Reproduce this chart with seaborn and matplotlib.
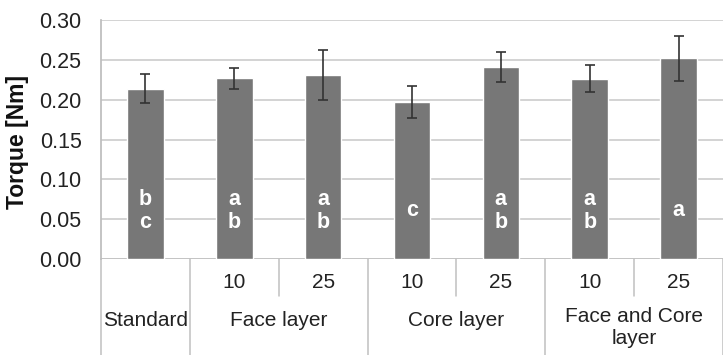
import numpy as np
import pandas as pd
import matplotlib
matplotlib.use("Agg")
import matplotlib.pyplot as plt
import matplotlib.transforms as mtransforms
import seaborn as sns

# values
bars = ["Standard", "Face 10", "Face 25", "Core 10", "Core 25", "FaceCore 10", "FaceCore 25"]
torque = [0.214, 0.227, 0.231, 0.197, 0.241, 0.226, 0.252]
torque_err = [0.018, 0.013, 0.031, 0.020, 0.019, 0.017, 0.028]
letters = ["b\nc", "a\nb", "a\nb", "c", "a\nb", "a\nb", "a"]
sub_labels = ["", "10", "25", "10", "25", "10", "25"]
groups = ["Standard", "Face layer", "Core layer", "Face and Core\nlayer"]
group_span = [(0, 0), (1, 2), (3, 4), (5, 6)]
yticks = [0.00, 0.05, 0.10, 0.15, 0.20, 0.25, 0.30]

df = pd.DataFrame({"bar": bars, "torque": torque})

sns.set_theme(style="white")
plt.rcParams["font.family"] = ["Liberation Sans", "DejaVu Sans"]

fig = plt.figure(figsize=(7.23, 3.55), dpi=100)
ax = fig.add_axes([101 / 723, (355 - 259) / 355, 1 - 101 / 723, 239 / 355])

sns.barplot(data=df, x="bar", y="torque", color="#777777", saturation=1,
            width=0.41, errorbar=None, ax=ax, zorder=2)
ax.errorbar(np.arange(len(bars)), torque, yerr=torque_err, fmt="none",
            ecolor="#333333", elinewidth=1.2, capsize=3.5, capthick=1.2, zorder=3)

for i, t in enumerate(letters):
    ax.text(i, 0.0605, t, ha="center", va="center", color="white",
            fontsize=15.5, fontweight="bold", linespacing=1.15, zorder=4)

ax.set_xlim(-0.5, len(bars) - 0.5)
ax.set_ylim(0, 0.30)
ax.set_yticks(yticks)
ax.set_yticklabels([f"{v:.2f}" for v in yticks], fontsize=15.5, color="#222222")
ax.tick_params(axis="y", length=0, pad=14)
ax.set_xticks([])
ax.set_xlabel("")
ax.set_ylabel("")
fig.text(18 / 723, 1 - 142 / 355, "Torque [Nm]", rotation=90, ha="center", va="center",
         fontsize=16.5, fontweight="bold", color="#111111")
ax.grid(axis="y", color="#c8c8c8", linewidth=1.1, zorder=0)
ax.set_axisbelow(True)
for s in ["top", "right", "bottom"]:
    ax.spines[s].set_visible(False)
ax.spines["left"].set_color("#bdbdbd")
ax.axhline(0, color="#c0c0c0", linewidth=1.1, zorder=1)

# category table below the axis
trans = mtransforms.blended_transform_factory(ax.transData, ax.transAxes)
bottom = -96 / 239
short = -37 / 239
ax.plot([-0.5, -0.5], [0, bottom], transform=trans, color="#c0c0c0", lw=1.1, clip_on=False)
for a, b in group_span:
    ax.plot([b + 0.5, b + 0.5], [0, bottom], transform=trans, color="#c0c0c0", lw=1.1, clip_on=False)
    if b > a:
        ax.plot([a + 0.5, a + 0.5], [0, short], transform=trans, color="#c0c0c0", lw=1.1, clip_on=False)
for i, s in enumerate(sub_labels):
    if s:
        ax.text(i, -24 / 239, s, transform=trans, ha="center", va="center",
                fontsize=15, color="#222222")
for (a, b), g in zip(group_span, groups):
    y = -61 / 239 if "\n" not in g else -68.5 / 239
    ax.text((a + b) / 2, y, g, transform=trans, ha="center", va="center",
            fontsize=15, color="#222222", linespacing=1.2)

fig.savefig("out.png", dpi=100)
